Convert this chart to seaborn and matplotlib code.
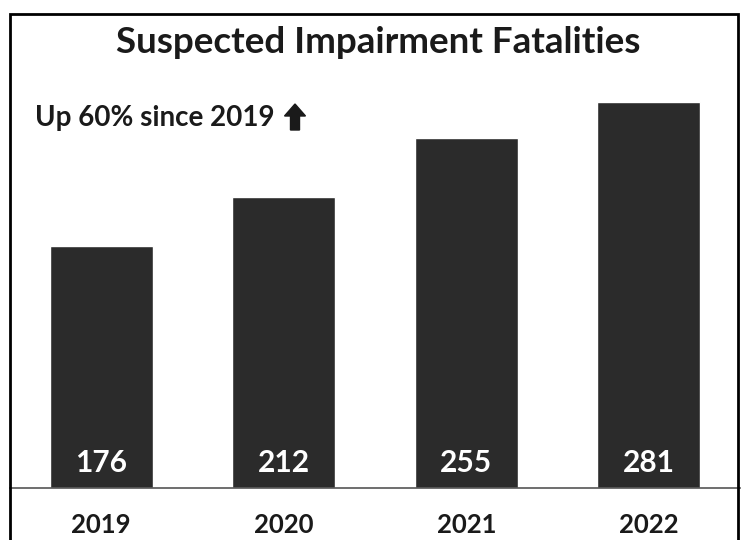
import pandas as pd
import seaborn as sns
import matplotlib.pyplot as plt
from matplotlib.patches import Rectangle, FancyArrow

years = ["2019", "2020", "2021", "2022"]
fatalities = [176, 212, 255, 281]
title = "Suspected Impairment Fatalities"
note = "Up 60% since 2019"

df = pd.DataFrame({"year": years, "fatalities": fatalities})

sns.set_style("white")
plt.rcParams["font.family"] = ["Lato", "DejaVu Sans"]

fig = plt.figure(figsize=(7.49, 5.40), dpi=100)
ax = fig.add_axes([10 / 749, 52 / 540, 730 / 749, 474 / 540])

sns.barplot(data=df, x="year", y="fatalities", color="#2b2b2b",
            width=0.565, saturation=1, ax=ax)

ax.set_xlim(-0.5, 3.5)
ax.set_ylim(0, 345)
ax.set_xlabel("")
ax.set_ylabel("")
ax.set_yticks([])
ax.tick_params(axis="x", length=0, pad=18)
for lab in ax.get_xticklabels():
    lab.set_fontsize(18.5)
    lab.set_fontweight("bold")
    lab.set_color("#1a1a1a")

for s in ["left", "right", "top"]:
    ax.spines[s].set_visible(False)
ax.spines["bottom"].set_color("#555555")
ax.spines["bottom"].set_linewidth(1.2)

# value labels inside the bars near the base
for i, v in enumerate(fatalities):
    ax.text(i, 8, str(v), ha="center", va="bottom", color="white",
            fontsize=21.5, fontweight="bold")

fig.text(0.505, 0.922, title, ha="center", va="center",
         fontsize=26.5, fontweight="bold", color="#1a1a1a")
fig.text(35 / 749, 1 - 118 / 540, note, ha="left", va="center",
         fontsize=20, fontweight="bold", color="#1a1a1a")

# up arrow next to the note (in inches)
fig.patches.append(FancyArrow(2.95, 4.10, 0, 0.26,
                              width=0.09, head_width=0.21, head_length=0.12,
                              length_includes_head=True, color="#1a1a1a",
                              transform=fig.dpi_scale_trans))

# outer frame
fig.patches.append(Rectangle((10 / 749, -0.05), 728 / 749, 1.05 - 14 / 540,
                             transform=fig.transFigure, fill=False,
                             edgecolor="black", linewidth=2))

fig.savefig("out.png", dpi=100)
